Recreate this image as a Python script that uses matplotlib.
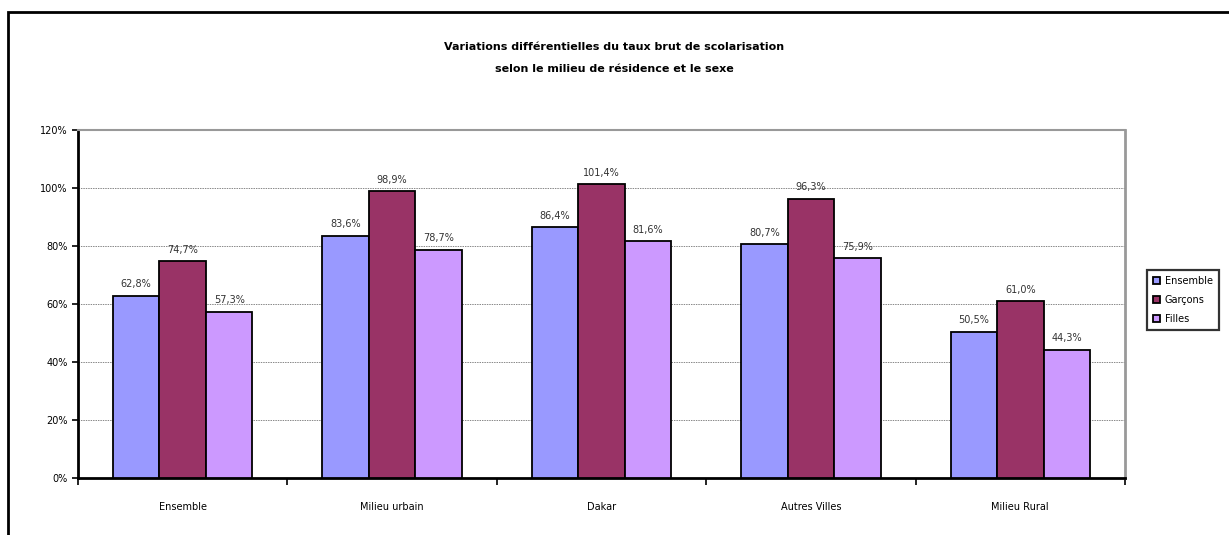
import matplotlib.pyplot as plt
import numpy as np
from matplotlib.patches import Rectangle

categories = ['Ensemble', 'Milieu urbain', 'Dakar', 'Autres Villes', 'Milieu Rural']
ensemble = [62.8, 83.6, 86.4, 80.7, 50.5]
garcons = [74.7, 98.9, 101.4, 96.3, 61.0]
filles = [57.3, 78.7, 81.6, 75.9, 44.3]
series_names = ['Ensemble', 'Garçons', 'Filles']
colors = ['#9999FF', '#993366', '#CC99FF']
yticks = [0, 20, 40, 60, 80, 100, 120]

fig = plt.figure(figsize=(12.29, 5.35), dpi=100)
# outer chart frame (cut off at bottom and right like the original)
fig.patches.append(Rectangle((8 / 1229, -0.05), 1.0, 1 - 12 / 535 + 0.05,
                             transform=fig.transFigure, fill=False, edgecolor='black',
                             linewidth=2))

ax = fig.add_axes([78 / 1229, 1 - 478 / 535, (1125 - 78) / 1229, (478 - 130) / 535])

x = np.arange(len(categories))
w = 1 / 4.5
for i, (vals, name, c) in enumerate(zip([ensemble, garcons, filles], series_names, colors)):
    pos = x + (i - 1) * w
    ax.bar(pos, vals, width=w, color=c, edgecolor='black', linewidth=1.3, label=name, zorder=3)
    for p, v in zip(pos, vals):
        ax.text(p, v + 2.2, f'{v:.1f}%'.replace('.', ','), ha='center', va='bottom',
                fontsize=7, color='#333333')

ax.set_xlim(-0.5, len(categories) - 0.5)
ax.set_ylim(0, 120)
ax.set_yticks(yticks)
ax.set_yticklabels([f'{t}%' for t in yticks], fontsize=7)
ax.yaxis.grid(True, color='#888888', linestyle=(0, (1.5, 1)), linewidth=0.7, zorder=0)
ax.set_xticks(np.arange(len(categories) + 1) - 0.5, minor=False)
ax.set_xticklabels([])
ax.set_xticks(x, minor=True)
ax.set_xticklabels(categories, minor=True, fontsize=7)
ax.tick_params(axis='x', which='minor', length=0, pad=17)
ax.tick_params(axis='x', which='major', length=5, width=1.2)
ax.tick_params(axis='y', length=4, width=1.2)
ax.spines['left'].set_linewidth(2)
ax.spines['bottom'].set_linewidth(2)
ax.spines['top'].set_color('#999999')
ax.spines['top'].set_linewidth(1.5)
ax.spines['right'].set_color('#999999')
ax.spines['right'].set_linewidth(2)

fig.text(0.5, 1 - 47 / 535, 'Variations différentielles du taux brut de scolarisation',
         ha='center', va='center', fontsize=8, fontweight='bold')
fig.text(0.5, 1 - 69 / 535, 'selon le milieu de résidence et le sexe',
         ha='center', va='center', fontsize=8, fontweight='bold')

leg = fig.legend(loc='center', bbox_to_anchor=(1183 / 1229, 1 - 300 / 535), fontsize=7,
                 frameon=True, fancybox=False, edgecolor='black', handlelength=0.7,
                 handleheight=0.7, handletextpad=0.5, borderpad=0.6, labelspacing=0.9)
leg.get_frame().set_linewidth(1.6)

fig.savefig('out.png', dpi=100)
